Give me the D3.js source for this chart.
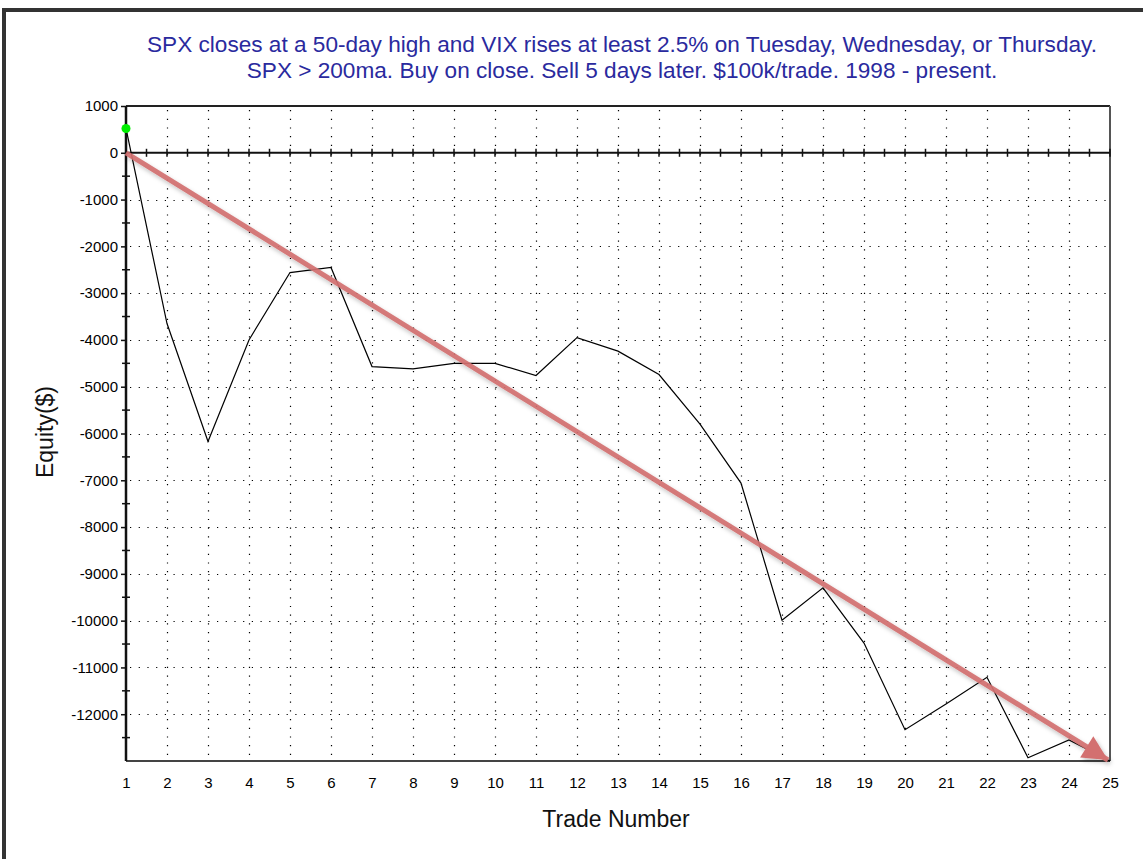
<!DOCTYPE html>
<html>
<head>
<meta charset="utf-8">
<script src="https://cdn.jsdelivr.net/npm/d3@7"></script>
<style>
  body { margin: 0; background: #fff; }
  svg { display: block; font-family: "Liberation Sans", Arial, sans-serif; }
</style>
</head>
<body>
<svg id="equity" width="1143" height="859"></svg>
<script>
// trade number and equity curve ($)
var trades = [1, 2, 3, 4, 5, 6, 7, 8, 9, 10, 11, 12, 13, 14, 15, 16, 17, 18, 19, 20, 21, 22, 23, 24, 25];
var equity = [520, -3650, -6170, -4000, -2560, -2450, -4570, -4620, -4500, -4500, -4760, -3950, -4240,
              -4740, -5800, -7060, -9990, -9300, -10480, -12330, -11780, -11210, -12930, -12550, -13000];
var yTicks = [1000, 0, -1000, -2000, -3000, -4000, -5000, -6000, -7000, -8000, -9000, -10000, -11000, -12000];
var yMinor = [500, -500, -1500, -2500, -3500, -4500, -5500, -6500, -7500, -8500, -9500, -10500, -11500, -12500];
var zeroTicks = [1, 1.5, 2, 2.5, 3, 3.5, 4, 4.5, 5, 5.5, 6, 6.5, 7, 7.5, 8, 8.5, 9, 9.5, 10, 10.5, 11, 11.5, 12, 12.5,
                 13, 13.5, 14, 14.5, 15, 15.5, 16, 16.5, 17, 17.5, 18, 18.5, 19, 19.5, 20, 20.5, 21, 21.5, 22, 22.5,
                 23, 23.5, 24, 24.5, 25];
// trend arrow drawn over the chart: [trade, equity]
var arrow = [[1, 0], [25, -13000]];
var titleLines = [
  "SPX closes at a 50-day high and VIX rises at least 2.5% on Tuesday, Wednesday, or Thursday.",
  "SPX > 200ma. Buy on close. Sell 5 days later. $100k/trade. 1998 - present."
];

var margin = {top: 106, right: 33, bottom: 98, left: 126},
    width = 1143 - margin.left - margin.right,
    height = 859 - margin.top - margin.bottom;

var svg = d3.select('svg#equity');

// outer frame (only left and top edges show)
svg.append('rect').attr('x', 4).attr('y', 10).attr('width', 1160).attr('height', 900)
  .attr('fill', 'none').attr('stroke', '#333').attr('stroke-width', 4);

svg.append('g')
    .attr('fill', '#2a2a9e')
    .attr('font-size', 22.6)
    .attr('text-anchor', 'middle')
  .selectAll('text')
  .data(titleLines)
  .join('text')
    .attr('x', 622)
    .attr('y', (d, i) => 52 + i * 26)
    .text(d => d);

var x = d3.scaleLinear().domain([1, 25]).range([0, width]);
var y = d3.scaleLinear().domain([-13000, 1000]).range([height, 0]);

var defs = svg.append('defs');
var f = defs.append('filter').attr('id', 'shadow').attr('x', '-10%').attr('y', '-10%').attr('width', '120%').attr('height', '130%');
f.append('feDropShadow').attr('dx', 2).attr('dy', 3).attr('stdDeviation', 2)
  .attr('flood-color', '#000').attr('flood-opacity', 0.25);
defs.append('marker')
    .attr('id', 'head')
    .attr('viewBox', '0 0 10 10')
    .attr('refX', 10).attr('refY', 5)
    .attr('markerWidth', 6).attr('markerHeight', 5)
    .attr('markerUnits', 'strokeWidth')
    .attr('orient', 'auto')
  .append('path')
    .attr('d', 'M0,0L10,5L0,10Z')
    .attr('fill', '#d37070');

var g = svg.append('g').attr('transform', `translate(${margin.left},${margin.top})`);

// dotted grid
g.append('g')
    .attr('stroke', '#000').attr('stroke-width', 1.2).attr('stroke-dasharray', '1.2,7.5')
  .selectAll('line.v')
  .data(trades.slice(1, -1))
  .join('line')
    .attr('x1', d => Math.round(x(d)) + 0.5).attr('x2', d => Math.round(x(d)) + 0.5)
    .attr('y1', 4).attr('y2', height);
g.append('g')
    .attr('stroke', '#000').attr('stroke-width', 1.2).attr('stroke-dasharray', '1.2,7.5')
  .selectAll('line.h')
  .data(yTicks.filter(d => d < 0))
  .join('line')
    .attr('x1', 4).attr('x2', width)
    .attr('y1', d => Math.round(y(d)) + 0.5).attr('y2', d => Math.round(y(d)) + 0.5);

// plot frame
g.append('line').attr('x1', 0).attr('x2', width).attr('y1', 0).attr('y2', 0)
  .attr('stroke', '#222').attr('stroke-width', 2);
g.append('line').attr('x1', width).attr('x2', width).attr('y1', 0).attr('y2', height)
  .attr('stroke', '#555').attr('stroke-width', 2);
g.append('line').attr('x1', 0).attr('x2', width).attr('y1', height).attr('y2', height)
  .attr('stroke', '#444').attr('stroke-width', 2);

// zero line with half-trade ticks
g.append('line').attr('x1', 0).attr('x2', width).attr('y1', y(0)).attr('y2', y(0))
  .attr('stroke', '#111').attr('stroke-width', 2);
g.append('g').attr('stroke', '#111').attr('stroke-width', 1.5)
  .selectAll('line')
  .data(zeroTicks)
  .join('line')
    .attr('x1', d => x(d)).attr('x2', d => x(d))
    .attr('y1', y(0) - 4).attr('y2', y(0) + 4);

// left axis
g.append('g')
    .call(d3.axisLeft(y).tickValues(yTicks).tickSize(5).tickPadding(3).tickFormat(d => String(d)))
    .call(a => a.select('.domain').attr('stroke', '#111').attr('stroke-width', 2.5).attr('d', `M0,0V${height}`))
    .call(a => a.selectAll('.tick line').attr('stroke', '#111').attr('stroke-width', 1.5))
    .call(a => a.selectAll('text').attr('font-size', 15).attr('fill', '#000').attr('font-family', '"Liberation Sans", Arial, sans-serif'));
g.append('g').attr('stroke', '#111').attr('stroke-width', 1.5)
  .selectAll('line')
  .data(yMinor)
  .join('line')
    .attr('x1', -4).attr('x2', 4)
    .attr('y1', d => y(d)).attr('y2', d => y(d));

// bottom labels
g.append('g')
    .attr('transform', `translate(0,${height})`)
    .call(d3.axisBottom(x).tickValues(trades).tickSize(0).tickPadding(16).tickFormat(d => String(d)))
    .call(a => a.select('.domain').remove())
    .call(a => a.selectAll('text').attr('font-size', 15).attr('fill', '#000').attr('font-family', '"Liberation Sans", Arial, sans-serif'));

// axis titles
svg.append('text')
    .attr('x', 616).attr('y', 827)
    .attr('text-anchor', 'middle').attr('font-size', 23).attr('fill', '#111')
    .text('Trade Number');
svg.append('text')
    .attr('transform', 'translate(53,432) rotate(-90)')
    .attr('text-anchor', 'middle').attr('font-size', 23).attr('fill', '#111')
    .text('Equity($)');

// equity line
var line = d3.line().x((d, i) => x(trades[i])).y(d => y(d));
g.append('path')
    .datum(equity)
    .attr('fill', 'none')
    .attr('stroke', '#000')
    .attr('stroke-width', 1.2)
    .attr('d', line);

g.append('circle')
    .attr('cx', x(trades[0])).attr('cy', y(equity[0])).attr('r', 4.5)
    .attr('fill', '#00ee00');

// trend arrow
g.append('line')
    .attr('x1', x(arrow[0][0])).attr('y1', y(arrow[0][1]))
    .attr('x2', x(arrow[1][0]) - 2).attr('y2', y(arrow[1][1]) - 1)
    .attr('stroke', '#d37070')
    .attr('stroke-opacity', 0.92)
    .attr('stroke-width', 5)
    .attr('marker-end', 'url(#head)')
    .attr('filter', 'url(#shadow)');
</script>
</body>
</html>
